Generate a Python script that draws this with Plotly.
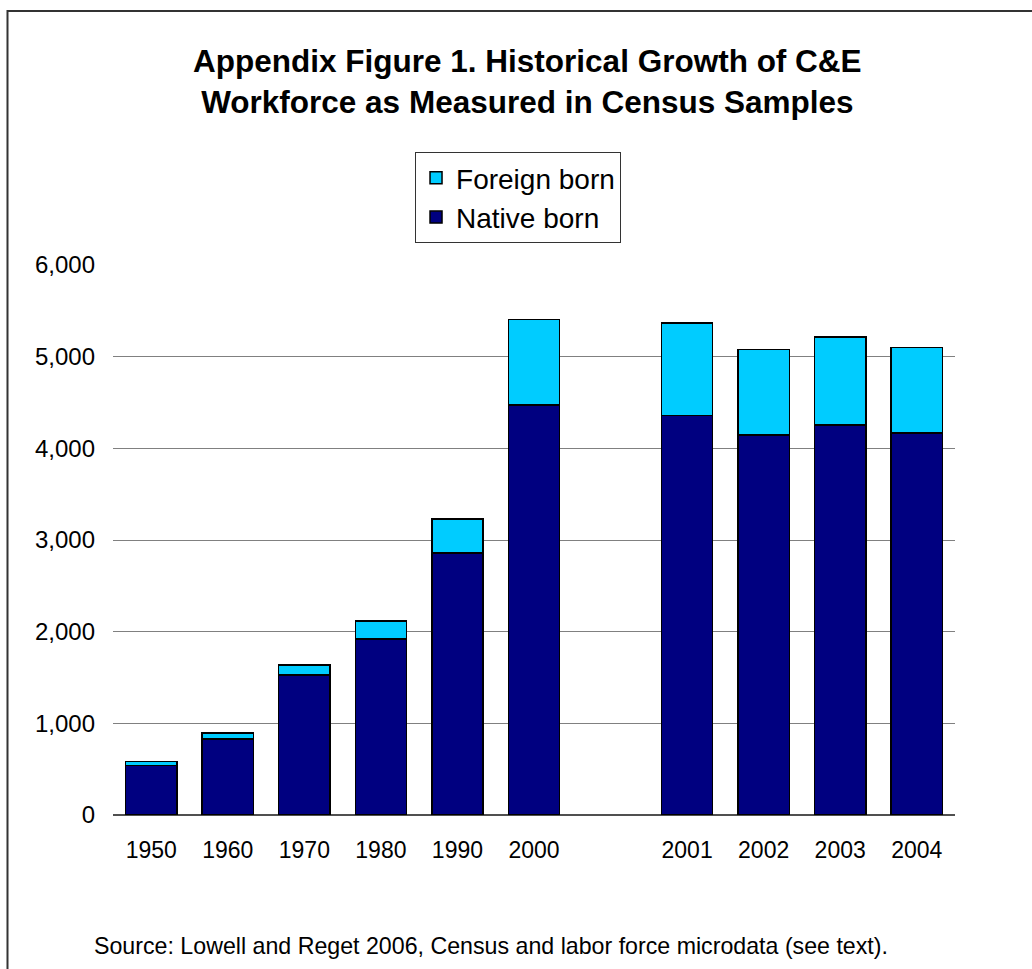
import plotly.graph_objects as go

# Census / labour-force sample years (thousands of workers)
years = ["1950", "1960", "1970", "1980", "1990", "2000", "2001", "2002", "2003", "2004"]
native_born = [540, 830, 1530, 1920, 2860, 4475, 4360, 4145, 4255, 4170]
foreign_born = [45, 65, 105, 195, 370, 930, 1005, 935, 960, 930]

# decennial census years on the left, annual samples after an empty slot
slot = [0, 1, 2, 3, 4, 5, 7, 8, 9, 10]

NATIVE = "#000080"
FOREIGN = "#00CCFF"
FONT = "Liberation Sans, Arial, sans-serif"

fig = go.Figure()
fig.add_trace(go.Bar(
    x=slot, y=native_born, name="Native born",
    marker=dict(color=NATIVE, line=dict(color="black", width=1.5)),
))
fig.add_trace(go.Bar(
    x=slot, y=foreign_born, name="Foreign born",
    marker=dict(color=FOREIGN, line=dict(color="black", width=1.5)),
))

fig.update_layout(
    width=1032, height=969,
    barmode="stack", bargap=0.33,
    paper_bgcolor="white", plot_bgcolor="white",
    margin=dict(l=113, r=77, t=265, b=154, autoexpand=False),
    font=dict(family=FONT, color="black"),
    title=dict(
        text="<b>Appendix Figure 1. Historical Growth of C&E<br>Workforce as Measured in Census Samples</b>",
        xref="container", yref="container",
        x=0.511, xanchor="center", y=0.926, yanchor="top",
        font=dict(size=31.5, family=FONT),
    ),
    legend=dict(
        x=0.3587, y=1.2055, xanchor="left", yanchor="top",
        bgcolor="white", bordercolor="#333333", borderwidth=1,
        font=dict(size=28, family=FONT),
        traceorder="reversed",
    ),
    xaxis=dict(
        tickmode="array", tickvals=slot, ticktext=years,
        range=[-0.5, 10.5], showgrid=False, showline=False,
        ticks="", tickfont=dict(size=23), tickangle=0, ticklabelstandoff=19,
    ),
    yaxis=dict(
        range=[0, 6000], tickvals=[0, 1000, 2000, 3000, 4000, 5000, 6000],
        tickformat=",d", showgrid=True, gridcolor="#808080", gridwidth=1,
        zeroline=True, zerolinecolor="#505050", zerolinewidth=1.5,
        showline=False, ticks="", tickfont=dict(size=24), ticklabelstandoff=17,
    ),
    annotations=[dict(
        text="Source: Lowell and Reget 2006, Census and labor force microdata (see text).",
        xref="paper", yref="paper", x=0.4495, y=-0.238, xanchor="center", yanchor="middle",
        showarrow=False, font=dict(size=23.2, family=FONT),
    )],
    shapes=[dict(
        type="rect", xref="paper", yref="paper",
        x0=-0.1253, x1=1.11, y0=-0.35, y1=1.4618,
        line=dict(color="#333333", width=2), fillcolor="rgba(0,0,0,0)", layer="below",
    )],
)

fig.write_html("out.html")
